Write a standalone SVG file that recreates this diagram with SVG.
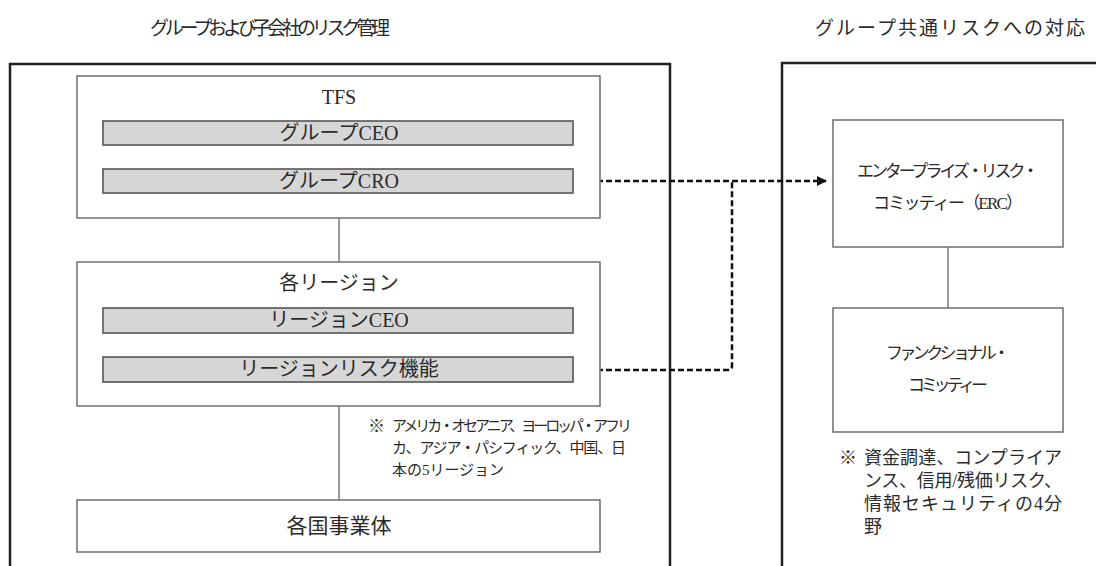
<svg xmlns="http://www.w3.org/2000/svg" width="1096" height="566" viewBox="0 0 1096 566">
<defs>
<style>
.outer{fill:none;stroke:#222;stroke-width:2.5}
.box{fill:#fff;stroke:#777;stroke-width:1.6}
.bar{fill:#d6d6d6;stroke:#555;stroke-width:1.6}
.solid{stroke:#777;stroke-width:1.5;fill:none}
.dash{stroke:#111;stroke-width:2.5;fill:none;stroke-dasharray:6 3}
.t{font-family:"Liberation Serif","Noto Sans CJK JP",serif;fill:#2a2a2a;text-anchor:middle;dominant-baseline:central}
.title{font-size:19px}
.lbl{font-size:20px}
.note{font-family:"Liberation Serif","Noto Sans CJK JP",serif;fill:#2a2a2a;dominant-baseline:central}
</style>
<marker id="arr" viewBox="0 0 10 10" refX="9" refY="5" markerWidth="4" markerHeight="4" orient="auto" markerUnits="strokeWidth">
<path d="M0,0 L10,5 L0,10 z" fill="#111"/>
</marker>
</defs>
<rect width="1096" height="566" fill="#fff"/>

<text class="t title" x="270" y="28" textLength="240">グループおよび子会社のリスク管理</text>
<text class="t title" x="950" y="28" font-size="20" textLength="270">グループ共通リスクへの対応</text>

<rect class="outer" x="10" y="64" width="660" height="600"/>
<rect class="outer" x="782" y="63" width="400" height="600"/>

<g id="connectors">
<line class="solid" x1="339" y1="145" x2="339" y2="169"/>
<line class="solid" x1="339" y1="218" x2="339" y2="262"/>
<line class="solid" x1="339" y1="333" x2="339" y2="357"/>
<line class="solid" x1="339" y1="406" x2="339" y2="500"/>
<line class="solid" x1="948" y1="247" x2="948" y2="308"/>
<path class="dash" d="M579,181 H826" marker-end="url(#arr)"/>
<path class="dash" d="M579,370 H728 Q732,370 732,366 V181"/>
</g>

<g id="tfs">
<rect class="box" x="77" y="76" width="523" height="142"/>
<text class="t lbl" x="339" y="97">TFS</text>
</g>
<g id="group-ceo">
<rect class="bar" x="103" y="121" width="470" height="24"/>
<text class="t lbl" x="339" y="133">グループCEO</text>
</g>
<g id="group-cro">
<rect class="bar" x="103" y="169" width="470" height="24"/>
<text class="t lbl" x="339" y="181">グループCRO</text>
</g>

<g id="region">
<rect class="box" x="77" y="262" width="523" height="144"/>
<text class="t lbl" x="339" y="283">各リージョン</text>
</g>
<g id="region-ceo">
<rect class="bar" x="103" y="308" width="470" height="25"/>
<text class="t lbl" x="339" y="320">リージョンCEO</text>
</g>
<g id="region-risk">
<rect class="bar" x="103" y="357" width="470" height="25"/>
<text class="t lbl" x="339" y="369">リージョンリスク機能</text>
</g>

<g id="note-left">
<text class="note" x="368" y="426" font-size="17">※</text>
<text class="note" x="392" y="426" font-size="15" textLength="240">アメリカ・オセアニア、ヨーロッパ・アフリ</text>
<text class="note" x="392" y="448" font-size="15" textLength="234">カ、アジア・パシフィック、中国、日</text>
<text class="note" x="392" y="470" font-size="15" textLength="112">本の5リージョン</text>
</g>

<g id="entities">
<rect class="box" x="77" y="500" width="523" height="52"/>
<text class="t" x="339" y="526" font-size="21">各国事業体</text>
</g>

<g id="erc">
<rect class="box" x="833" y="120" width="230" height="127"/>
<text class="t" x="948" y="171" font-size="17" textLength="182">エンタープライズ・リスク・</text>
<text class="t" x="948" y="203" font-size="17" textLength="150">コミッティー（ERC）</text>
</g>

<g id="functional">
<rect class="box" x="833" y="308" width="230" height="124"/>
<text class="t" x="948" y="353" font-size="17" textLength="124">ファンクショナル・</text>
<text class="t" x="948" y="385" font-size="17" textLength="80">コミッティー</text>
</g>

<g id="note-right">
<text class="note" x="839" y="458" font-size="18">※</text>
<text class="note" x="864" y="458" font-size="18" textLength="198">資金調達、コンプライア</text>
<text class="note" x="864" y="481" font-size="18" textLength="198">ンス、信用/残価リスク、</text>
<text class="note" x="864" y="504" font-size="18" textLength="198">情報セキュリティの4分</text>
<text class="note" x="864" y="527" font-size="18">野</text>
</g>
</svg>
